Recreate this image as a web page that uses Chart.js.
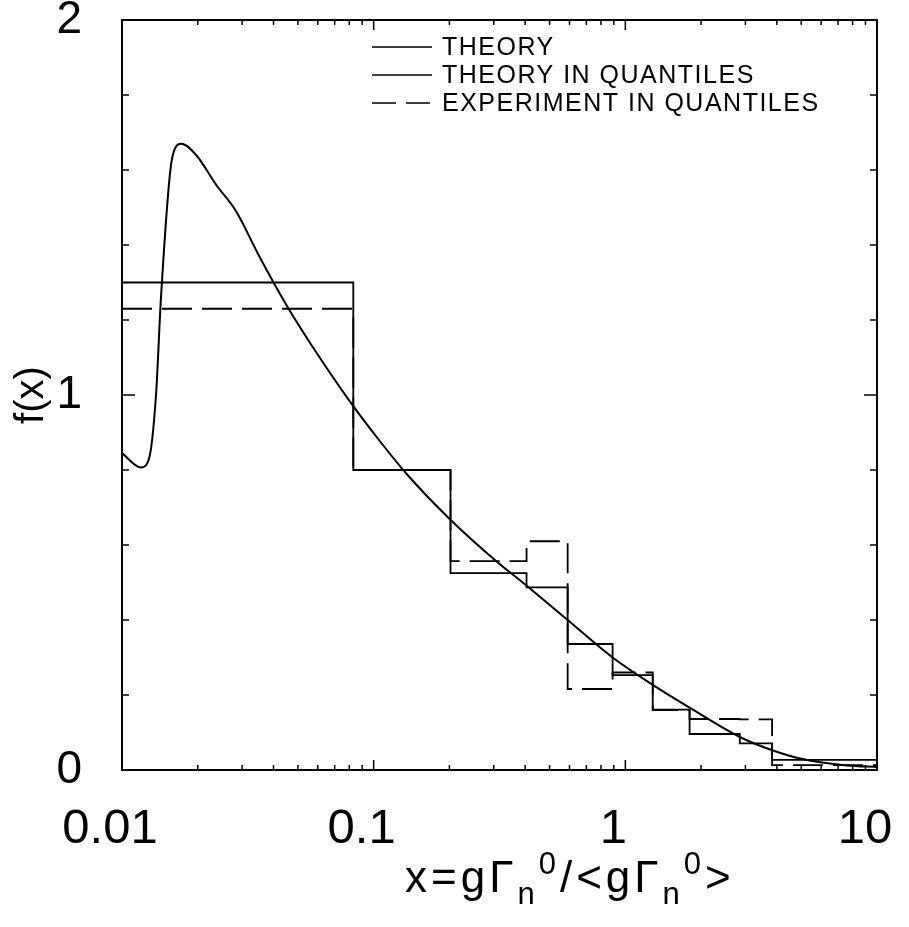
<!DOCTYPE html>
<html>
<head>
<meta charset="utf-8">
<script src="https://cdn.jsdelivr.net/npm/chart.js@4.4.1/dist/chart.umd.min.js"></script>
<style>
  html, body { margin: 0; padding: 0; background: #fff; }
  #wrap { position: relative; width: 909px; height: 927px; }
  #xtitle {
    position: absolute; left: 405px; top: 846px; white-space: nowrap; letter-spacing: 4px;
    font: 44px "Liberation Sans", Arial, sans-serif; color: #000;
  }
  #xtitle sub { font-size: 31px; vertical-align: -12px; }
  #xtitle sup { font-size: 31px; vertical-align: 18px; }
</style>
</head>
<body>
<div id="wrap">
  <canvas id="chart" width="909" height="927"></canvas>
  <div id="xtitle">x=gΓ<sub>n</sub><sup>0</sup>/&lt;gΓ<sub>n</sub><sup>0</sup>&gt;</div>
</div>
<script>
// Values

// smooth theory curve
const theoryX = [0.01, 0.0119, 0.0128, 0.01365, 0.0143, 0.0158, 0.0172, 0.0197, 0.0237, 0.0284,
  0.0351, 0.045, 0.057, 0.082, 0.105, 0.135, 0.2, 0.308, 0.391, 0.59, 0.89, 1.285, 1.855, 2.85,
  3.86, 5.0, 7.6, 10];
const theoryY = [0.845, 0.807, 0.83, 1.0, 1.265, 1.63, 1.67, 1.64, 1.56, 1.49,
  1.37, 1.24, 1.13, 0.975, 0.88, 0.79, 0.67, 0.556, 0.50, 0.40, 0.30, 0.227, 0.161, 0.088,
  0.052, 0.03, 0.012, 0.008];

// quantile bins (edges) and their levels
const binEdges = [0.01, 0.083, 0.202, 0.405, 0.59, 0.89, 1.285, 1.80, 2.85, 3.83, 10];
const theoryQ = [1.30, 0.80, 0.525, 0.487, 0.336, 0.253, 0.161, 0.096, 0.071, 0.027];
const experimentQ = [1.23, 0.80, 0.557, 0.61, 0.216, 0.26, 0.16, 0.136, 0.135, 0.013];

// axes
const xMajor = [0.01, 0.1, 1, 10];
const xLabels = ['0.01', '0.1', '1', '10'];
const yMajor = [0, 1, 2];
const yLabels = ['0', '1', '2'];
const yMinorStep = 0.2;

const seriesNames = ['THEORY', 'THEORY IN QUANTILES', 'EXPERIMENT IN QUANTILES'];

// log minor ticks 1..9 per decade
const xTickValues = [];
for (let d = 0; d < xMajor.length - 1; d++) {
  for (let m = 1; m < 10; m++) xTickValues.push(m === 1 ? xMajor[d] : +(m * xMajor[d]).toPrecision(3));
}
xTickValues.push(xMajor[xMajor.length - 1]);

const yTickValues = [];
for (let v = 0; v <= 2.0001; v += yMinorStep) yTickValues.push(+v.toFixed(1));

function toPoints(xs, ys) {
  return xs.map((x, i) => ({ x: x, y: ys[i] }));
}

// histogram: one point per edge, the last one repeats the last level
function toSteps(edges, levels) {
  return edges.map((x, i) => ({ x: x, y: levels[Math.min(i, levels.length - 1)] }));
}

const fontMain = '"Liberation Sans", Arial, sans-serif';

// inner tick marks, frame and legend
const frameAndTicks = {
  id: 'frameAndTicks',
  afterDraw(chart) {
    const { ctx, chartArea: a } = chart;
    const xs = chart.scales.x, ys = chart.scales.y;
    ctx.save();
    ctx.strokeStyle = '#000';
    ctx.lineWidth = 1.5;
    ctx.setLineDash([]);
    const seg = (x1, y1, x2, y2) => {
      ctx.beginPath(); ctx.moveTo(x1, y1); ctx.lineTo(x2, y2); ctx.stroke();
    };
    xs.ticks.forEach(t => {
      const px = xs.getPixelForValue(t.value);
      const len = xMajor.includes(t.value) ? 10 : 5;
      seg(px, a.bottom, px, a.bottom - len);
      seg(px, a.top, px, a.top + len);
    });
    ys.ticks.forEach(t => {
      const py = ys.getPixelForValue(t.value);
      const len = yMajor.includes(t.value) ? 13 : 7;
      seg(a.left, py, a.left + len, py);
      seg(a.right, py, a.right - len, py);
    });
    ctx.lineWidth = 2;
    ctx.strokeRect(a.left, a.top, a.right - a.left, a.bottom - a.top);

    // legend
    ctx.font = '25px ' + fontMain;
    ctx.letterSpacing = '1.5px';
    ctx.fillStyle = '#000';
    ctx.textBaseline = 'middle';
    chart.data.datasets.forEach((ds, i) => {
      const yy = 47 + i * 28;
      ctx.lineWidth = 1.5;
      ctx.setLineDash(ds.borderDash ? [24, 10] : []);
      seg(372, yy, 432, yy);
      ctx.setLineDash([]);
      ctx.fillText(ds.label, 442, yy + 1);
    });
    ctx.restore();
  }
};

new Chart(document.getElementById('chart'), {
  type: 'line',
  data: {
    datasets: [
      {
        label: seriesNames[0],
        data: toPoints(theoryX, theoryY),
        borderColor: '#000',
        borderWidth: 2,
        pointRadius: 0,
        cubicInterpolationMode: 'monotone'
      },
      {
        label: seriesNames[1],
        data: toSteps(binEdges, theoryQ),
        borderColor: '#000',
        borderWidth: 1.8,
        pointRadius: 0,
        stepped: 'before'
      },
      {
        label: seriesNames[2],
        data: toSteps(binEdges, experimentQ),
        borderColor: '#000',
        borderWidth: 1.8,
        borderDash: [30, 10],
        pointRadius: 0,
        stepped: 'before'
      }
    ]
  },
  options: {
    responsive: false,
    animation: false,
    devicePixelRatio: 1,
    layout: { padding: { top: 20, right: 32, left: 0, bottom: 0 } },
    plugins: {
      legend: { display: false },
      tooltip: { enabled: false }
    },
    scales: {
      x: {
        type: 'logarithmic',
        min: 0.01,
        max: 10,
        afterBuildTicks: scale => { scale.ticks = xTickValues.map(v => ({ value: v })); },
        afterFit: scale => {
          scale.height = 157;
          scale.paddingLeft = 0;
          scale.paddingRight = 0;
        },
        grid: { display: false },
        border: { display: false },
        ticks: {
          autoSkip: false,
          maxRotation: 0,
          padding: 22,
          labelOffset: -12,
          color: '#000',
          font: { family: fontMain, size: 49 },
          callback: value => {
            const i = xMajor.indexOf(value);
            return i >= 0 ? xLabels[i] : '';
          }
        }
      },
      y: {
        min: 0,
        max: 2,
        afterBuildTicks: scale => { scale.ticks = yTickValues.map(v => ({ value: v })); },
        afterFit: scale => {
          scale.width = 122;
          scale.paddingTop = 0;
          scale.paddingBottom = 0;
        },
        grid: { display: false },
        border: { display: false },
        title: {
          display: true,
          text: 'f(x)',
          color: '#000',
          font: { family: fontMain, size: 40 },
          padding: { top: 8, bottom: 0 }
        },
        ticks: {
          autoSkip: false,
          padding: 32,
          color: '#000',
          font: { family: fontMain, size: 46 },
          callback: value => {
            const i = yMajor.indexOf(value);
            return i >= 0 ? yLabels[i] : '';
          }
        }
      }
    }
  },
  plugins: [frameAndTicks]
});
</script>
</body>
</html>
